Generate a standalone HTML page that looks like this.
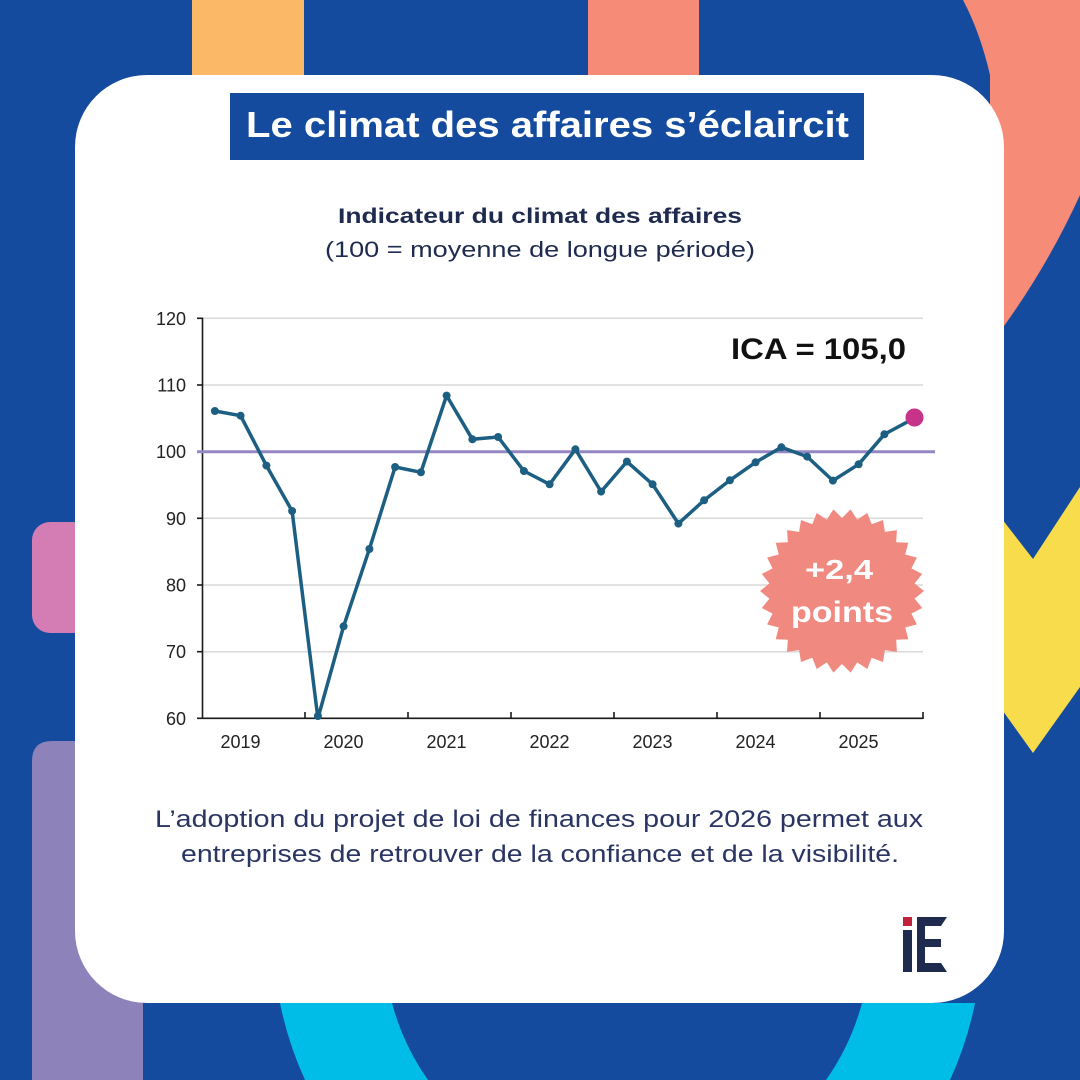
<!DOCTYPE html>
<html>
<head>
<meta charset="utf-8">
<style>
  html, body { margin: 0; padding: 0; width: 1080px; height: 1080px; overflow: hidden; background: #144B9E; }
  svg { display: block; }
  text { font-family: "Liberation Sans", "DejaVu Sans", sans-serif; }
</style>
</head>
<body>
<svg width="1080" height="1080" viewBox="0 0 1080 1080" xmlns="http://www.w3.org/2000/svg" overflow="hidden">
  <defs>
    <clipPath id="frame"><rect x="0" y="0" width="1080" height="1080"/></clipPath>
  </defs>
  <g clip-path="url(#frame)">
  <!-- background -->
  <rect x="0" y="0" width="1080" height="1080" fill="#144B9E"/>
  <!-- top bars -->
  <rect x="192" y="0" width="112" height="110" fill="#FBB867"/>
  <rect x="588" y="0" width="111" height="110" fill="#F68B77"/>
  <!-- top-right salmon shape -->
  <path d="M963,0 L1080,0 L1080,195 Q1048,265 1004,326 L990,340 L990,75 Q980,32 963,0 Z" fill="#F68B77"/>
  <!-- yellow chevron -->
  <polygon points="995,510 1033,559 1080,487 1080,687 1033,753 995,700" fill="#F9DC4C"/>
  <!-- left pink and purple -->
  <rect x="32" y="522" width="90" height="111" rx="18" ry="18" fill="#D47DB5"/>
  <path d="M32,1080 L32,761 Q32,741 52,741 L143,741 L143,1080 Z" fill="#8D83BA"/>
  <!-- cyan ring bottom -->
  <path d="M280,1003 A350,350 0 0 0 305,1080 L428,1080 A243,243 0 0 1 392,1003 Z" fill="#00BDE8"/>
  <path d="M975,1003 A350,350 0 0 1 950,1080 L826,1080 A243,243 0 0 0 862,1003 Z" fill="#00BDE8"/>

  <!-- white card -->
  <rect x="75" y="75" width="929" height="928" rx="72" ry="72" fill="#FFFFFF"/>

  <!-- title -->
  <rect x="230" y="93" width="634" height="67" fill="#144B9E"/>
  <text x="246" y="137" font-size="36" font-weight="bold" fill="#FFFFFF" textLength="603" lengthAdjust="spacingAndGlyphs">Le climat des affaires s’éclaircit</text>

  <!-- subtitle -->
  <text x="338" y="223" font-size="21" font-weight="bold" fill="#1F2A4F" textLength="404" lengthAdjust="spacingAndGlyphs">Indicateur du climat des affaires</text>
  <text x="325" y="257" font-size="22" fill="#1F2A4F" textLength="430" lengthAdjust="spacingAndGlyphs">(100 = moyenne de longue période)</text>

  <!-- gridlines -->
  <g stroke="#D9D9D9" stroke-width="1.5">
    <line x1="203" y1="318.3" x2="923" y2="318.3"/>
    <line x1="203" y1="385" x2="923" y2="385"/>
    <line x1="203" y1="518.3" x2="923" y2="518.3"/>
    <line x1="203" y1="585" x2="923" y2="585"/>
    <line x1="203" y1="651.7" x2="923" y2="651.7"/>
  </g>

  <!-- axes -->
  <g stroke="#1a1a1a" stroke-width="1.6">
    <line x1="202.5" y1="318" x2="202.5" y2="719"/>
    <line x1="197" y1="718.3" x2="923" y2="718.3"/>
    <line x1="197" y1="318.3" x2="203" y2="318.3"/>
    <line x1="197" y1="385" x2="203" y2="385"/>
    <line x1="197" y1="451.7" x2="203" y2="451.7"/>
    <line x1="197" y1="518.3" x2="203" y2="518.3"/>
    <line x1="197" y1="585" x2="203" y2="585"/>
    <line x1="197" y1="651.7" x2="203" y2="651.7"/>
    <line x1="305" y1="712" x2="305" y2="718"/>
    <line x1="408" y1="712" x2="408" y2="718"/>
    <line x1="511" y1="712" x2="511" y2="718"/>
    <line x1="614" y1="712" x2="614" y2="718"/>
    <line x1="717" y1="712" x2="717" y2="718"/>
    <line x1="820" y1="712" x2="820" y2="718"/>
    <line x1="923" y1="712" x2="923" y2="719"/>
  </g>

  <!-- y labels -->
  <g font-size="18" fill="#222222" text-anchor="end">
    <text x="186" y="325">120</text>
    <text x="186" y="391.5">110</text>
    <text x="186" y="458">100</text>
    <text x="186" y="525">90</text>
    <text x="186" y="591.5">80</text>
    <text x="186" y="658">70</text>
    <text x="186" y="725">60</text>
  </g>
  <!-- x labels -->
  <g font-size="18" fill="#222222" text-anchor="middle">
    <text x="240.5" y="748">2019</text>
    <text x="343.5" y="748">2020</text>
    <text x="446.5" y="748">2021</text>
    <text x="549.5" y="748">2022</text>
    <text x="652.5" y="748">2023</text>
    <text x="755.5" y="748">2024</text>
    <text x="858.5" y="748">2025</text>
  </g>

  <!-- 100 reference line -->
  <line x1="197" y1="451.7" x2="935" y2="451.7" stroke="#9487C3" stroke-width="3"/>

  <!-- series -->
  <polyline fill="none" stroke="#1C5F82" stroke-width="3.5" stroke-linejoin="round" stroke-linecap="round"
    points="214.9,411 240.6,415.7 266.4,465.6 292.1,511 317.9,718.3 343.6,626.3 369.4,549 395.1,467 420.9,472.3 446.6,395.6 472.4,439.3 498.1,437 523.9,471 549.6,484.3 575.4,449.3 601.1,491.6 626.9,461.6 652.6,484.3 678.4,523.6 704.1,500.3 729.9,480.3 755.6,462.3 781.4,447.3 807.1,456.6 832.9,480.6 858.6,464.3 884.4,434.3 914,418.3"/>
  <g fill="#1C5F82">
    <circle cx="214.9" cy="411" r="4"/>
    <circle cx="240.6" cy="415.7" r="4"/>
    <circle cx="266.4" cy="465.6" r="4"/>
    <circle cx="292.1" cy="511" r="4"/>
    <circle cx="317.9" cy="716" r="4"/>
    <circle cx="343.6" cy="626.3" r="4"/>
    <circle cx="369.4" cy="549" r="4"/>
    <circle cx="395.1" cy="467" r="4"/>
    <circle cx="420.9" cy="472.3" r="4"/>
    <circle cx="446.6" cy="395.6" r="4"/>
    <circle cx="472.4" cy="439.3" r="4"/>
    <circle cx="498.1" cy="437" r="4"/>
    <circle cx="523.9" cy="471" r="4"/>
    <circle cx="549.6" cy="484.3" r="4"/>
    <circle cx="575.4" cy="449.3" r="4"/>
    <circle cx="601.1" cy="491.6" r="4"/>
    <circle cx="626.9" cy="461.6" r="4"/>
    <circle cx="652.6" cy="484.3" r="4"/>
    <circle cx="678.4" cy="523.6" r="4"/>
    <circle cx="704.1" cy="500.3" r="4"/>
    <circle cx="729.9" cy="480.3" r="4"/>
    <circle cx="755.6" cy="462.3" r="4"/>
    <circle cx="781.4" cy="447.3" r="4"/>
    <circle cx="807.1" cy="456.6" r="4"/>
    <circle cx="832.9" cy="480.6" r="4"/>
    <circle cx="858.6" cy="464.3" r="4"/>
    <circle cx="884.4" cy="434.3" r="4"/>
  </g>
  <circle cx="914.5" cy="417.5" r="9" fill="#C8338A"/>

  <!-- ICA label -->
  <text x="731" y="359" font-size="30" font-weight="bold" fill="#111111" textLength="175" lengthAdjust="spacingAndGlyphs">ICA = 105,0</text>

  <!-- badge -->
  <g transform="translate(842,591)">
    <polygon fill="#F08A80" points="82,0 72.6,7.6 80.2,17 69.4,22.6 74.9,33.4 63.2,36.5 66.3,48.2 54.2,48.8 54.9,60.9 42.9,59.1 41,71 29.7,66.7 25.3,78 15.2,71.4 8.6,81.6 0,73 -8.6,81.6 -15.2,71.4 -25.3,78 -29.7,66.7 -41,71 -42.9,59.1 -54.9,60.9 -54.2,48.8 -66.3,48.2 -63.2,36.5 -74.9,33.4 -69.4,22.6 -80.2,17 -72.6,7.6 -82,0 -72.6,-7.6 -80.2,-17 -69.4,-22.6 -74.9,-33.4 -63.2,-36.5 -66.3,-48.2 -54.2,-48.8 -54.9,-60.9 -42.9,-59.1 -41,-71 -29.7,-66.7 -25.3,-78 -15.2,-71.4 -8.6,-81.6 0,-73 8.6,-81.6 15.2,-71.4 25.3,-78 29.7,-66.7 41,-71 42.9,-59.1 54.9,-60.9 54.2,-48.8 66.3,-48.2 63.2,-36.5 74.9,-33.4 69.4,-22.6 80.2,-17 72.6,-7.6"/>
  </g>
  <text x="805" y="579" font-size="28" font-weight="bold" fill="#FFFFFF" textLength="68" lengthAdjust="spacingAndGlyphs">+2,4</text>
  <text x="791" y="622" font-size="30" font-weight="bold" fill="#FFFFFF" textLength="102" lengthAdjust="spacingAndGlyphs">points</text>

  <!-- bottom text -->
  <text x="155" y="827" font-size="24" fill="#2B3563" textLength="768" lengthAdjust="spacingAndGlyphs">L’adoption du projet de loi de finances pour 2026 permet aux</text>
  <text x="181" y="862" font-size="24" fill="#2B3563" textLength="718" lengthAdjust="spacingAndGlyphs">entreprises de retrouver de la confiance et de la visibilité.</text>

  <!-- logo iE -->
  <rect x="903" y="917" width="9" height="9" fill="#C0223B"/>
  <rect x="903" y="930" width="9" height="42" fill="#1F2A4F"/>
  <rect x="917" y="917" width="8" height="55" fill="#1F2A4F"/>
  <polygon points="925,917 947,917 941,926 925,926" fill="#1F2A4F"/>
  <rect x="925" y="939" width="16" height="8" fill="#1F2A4F"/>
  <polygon points="925,963 941,963 947,972 925,972" fill="#1F2A4F"/>
  </g>
</svg>
</body>
</html>
